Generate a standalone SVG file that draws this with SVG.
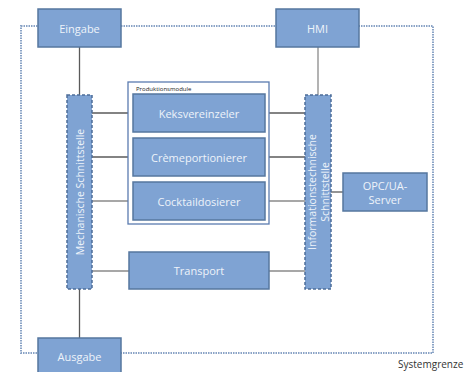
<svg xmlns="http://www.w3.org/2000/svg" width="473" height="372" viewBox="0 0 473 372">
<style>
.box{fill:#7fa3d3;stroke:#56779f;stroke-width:1.5}
.iface{fill:#7fa3d3;stroke:#4d6d99;stroke-width:1.5;stroke-dasharray:3 2}
.lbl{font-family:"Open Sans","DejaVu Sans",sans-serif;font-size:11px;fill:#eef3fa;text-anchor:middle;dominant-baseline:central}
.vl{font-size:10.5px}
.con{stroke:#5a5a5a;stroke-width:1.3;fill:none}
.con2{stroke:#8a8a8a;stroke-width:1.3;fill:none}
.border{fill:none;stroke:#8aa3c6;stroke-width:2;stroke-dasharray:1.5 1}
</style>
<rect width="473" height="372" fill="#ffffff"/>
<rect class="border" x="21" y="26" width="412" height="327"/>
<text x="398" y="368" font-family="'Open Sans','DejaVu Sans',sans-serif" font-size="10" fill="#333333">Systemgrenze</text>
<g id="connectors">
<line class="con" x1="79.5" y1="47" x2="79.5" y2="95"/>
<line class="con" x1="79.5" y1="289" x2="79.5" y2="338"/>
<line class="con2" x1="318" y1="47" x2="318" y2="95"/>
<line class="con" x1="92" y1="113" x2="133" y2="113"/>
<line class="con" x1="92" y1="157" x2="133" y2="157"/>
<line class="con2" x1="92" y1="201" x2="133" y2="201"/>
<line class="con2" x1="92" y1="271" x2="129" y2="271"/>
<line class="con" x1="265" y1="113" x2="305" y2="113"/>
<line class="con" x1="265" y1="157" x2="305" y2="157"/>
<line class="con2" x1="265" y1="201" x2="305" y2="201"/>
<line class="con2" x1="269" y1="271" x2="305" y2="271"/>
<line class="con" x1="331" y1="192" x2="343" y2="192"/>
</g>
<g id="eingabe"><rect class="box" x="38" y="9" width="83" height="38"/><text class="lbl" x="79.5" y="28">Eingabe</text></g>
<g id="hmi"><rect class="box" x="276" y="9" width="83" height="38"/><text class="lbl" x="317.5" y="28">HMI</text></g>
<g id="ausgabe"><rect class="box" x="38" y="338" width="83" height="40"/><text class="lbl" x="79.5" y="356">Ausgabe</text></g>
<g id="mech"><rect class="iface" x="67" y="95" width="25" height="194"/><text class="lbl vl" transform="translate(79.5 192) rotate(-90)">Mechanische Schnittstelle</text></g>
<g id="info"><rect class="iface" x="305" y="95" width="26" height="194"/><text class="lbl vl" transform="translate(318 192) rotate(-90)"><tspan x="0" y="-6.5">Informationstechnische</tspan><tspan x="0" y="6.5">Schnittstelle</tspan></text></g>
<g id="produktionsmodule"><rect x="128" y="82" width="141" height="142" fill="#ffffff" stroke="#5b7bb0" stroke-width="1.3"/><text x="136" y="91" font-family="'Open Sans','DejaVu Sans',sans-serif" font-size="6" fill="#222222">Produktionsmodule</text></g>
<g id="keks"><rect class="box" x="133" y="94" width="132" height="38"/><text class="lbl" x="199" y="113">Keksvereinzeler</text></g>
<g id="creme"><rect class="box" x="133" y="138" width="132" height="38"/><text class="lbl" x="199" y="157">Crèmeportionierer</text></g>
<g id="cocktail"><rect class="box" x="133" y="182" width="132" height="38"/><text class="lbl" x="199" y="201">Cocktaildosierer</text></g>
<g id="transport"><rect class="box" x="129" y="252" width="140" height="37"/><text class="lbl" x="199" y="270.5">Transport</text></g>
<g id="opc"><rect class="box" x="343" y="173" width="84" height="38"/><text class="lbl" x="385" y="185" font-size="10.5">OPC/UA-</text><text class="lbl" x="385" y="199.5" font-size="10.5">Server</text></g>
</svg>
